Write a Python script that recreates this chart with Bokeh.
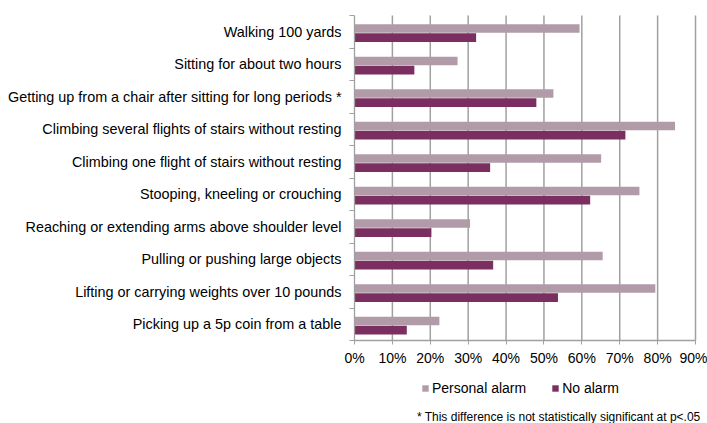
import numpy as np
from bokeh.plotting import figure
from bokeh.models import (ColumnDataSource, Range1d, FixedTicker, LinearAxis,
                          PrintfTickFormatter, Legend, LegendItem, Label)
from bokeh.transform import dodge
from bokeh.embed import file_html
from bokeh.resources import INLINE

categories = [
    "Walking 100 yards",
    "Sitting for about two hours",
    "Getting up from a chair after sitting for long periods *",
    "Climbing several flights of stairs without resting",
    "Climbing one flight of stairs without resting",
    "Stooping, kneeling or crouching",
    "Reaching or extending arms above shoulder level",
    "Pulling or pushing large objects",
    "Lifting or carrying weights over 10 pounds",
    "Picking up a 5p coin from a table",
]
personal_alarm = [59.4, 27.2, 52.5, 84.6, 65.1, 75.2, 30.5, 65.5, 79.4, 22.4]
no_alarm = [32.1, 15.8, 48.0, 71.5, 35.8, 62.2, 20.3, 36.6, 53.7, 13.8]
x_ticks = [0, 10, 20, 30, 40, 50, 60, 70, 80, 90]
series_names = ["Personal alarm", "No alarm"]
footnote = "* This difference is not statistically significant at p<.05"

FONT = "Liberation Sans"
C_PERS = "#B29BA9"
C_NO = "#7B2E60"
GRAY = "#A0A0A0"

n = len(categories)
ypos = (np.arange(n)[::-1] + 0.5).tolist()
src = ColumnDataSource(dict(y=ypos, pers=personal_alarm, no=no_alarm, cat=categories))
grid_src = ColumnDataSource(dict(x=x_ticks[1:], y0=[0] * (len(x_ticks) - 1),
                                 y1=[n] * (len(x_ticks) - 1)))

# The frame covers the whole canvas; the plot area sits inside it.
W, H = 707, 423
LEFT, RIGHT, TOP, BOTTOM = 354, 695, 15, 340   # plot-area edges in pixels
xmax = x_ticks[-1]
xu = (RIGHT - LEFT) / xmax
yu = (BOTTOM - TOP) / n
x_range = Range1d(-LEFT / xu, xmax + (W - RIGHT) / xu)
y_range = Range1d(-(H - BOTTOM) / yu, n + TOP / yu)

p = figure(width=W, height=H, output_backend="svg", toolbar_location=None,
           x_range=x_range, y_range=y_range,
           x_axis_location=None, y_axis_location=None,
           min_border=0)
p.outline_line_color = None
p.background_fill_color = "white"
p.border_fill_color = "white"
p.xgrid.visible = False
p.ygrid.visible = False

p.segment(x0="x", y0="y0", x1="x", y1="y1", source=grid_src,
          line_color=GRAY, line_width=1.5)

r1 = p.hbar(y=dodge("y", 0.10), right="pers", left=0, height=0.265, source=src,
            fill_color=C_PERS, line_color=None)
r2 = p.hbar(y=dodge("y", -0.18), right="no", left=0, height=0.265, source=src,
            fill_color=C_NO, line_color=None)

# x axis pinned at y = 0
xaxis = LinearAxis(ticker=FixedTicker(ticks=x_ticks),
                   formatter=PrintfTickFormatter(format="%d%%"),
                   bounds=(0, xmax))
xaxis.fixed_location = 0
xaxis.axis_line_color = GRAY
xaxis.axis_line_width = 1.3
xaxis.major_tick_line_color = GRAY
xaxis.major_tick_out = 4
xaxis.major_tick_in = 0
xaxis.minor_tick_line_color = None
xaxis.major_label_standoff = 5
xaxis.major_label_text_font = FONT
xaxis.major_label_text_font_size = "14px"
xaxis.major_label_text_color = "#000000"
p.add_layout(xaxis, "below")

# y axis pinned at x = 0: labels at centres, ticks at boundaries
yaxis = LinearAxis(ticker=FixedTicker(ticks=ypos, minor_ticks=list(range(n + 1))),
                   bounds=(0, n))
yaxis.fixed_location = 0
yaxis.major_label_overrides = {y: c for y, c in zip(ypos, categories)}
yaxis.axis_line_color = GRAY
yaxis.axis_line_width = 1.3
yaxis.major_tick_line_color = None
yaxis.major_tick_out = 0
yaxis.major_tick_in = 0
yaxis.minor_tick_line_color = GRAY
yaxis.minor_tick_out = 5
yaxis.minor_tick_in = 0
yaxis.major_label_standoff = 8
yaxis.major_label_text_font = FONT
yaxis.major_label_text_font_size = "14.4px"
yaxis.major_label_text_color = "#000000"
p.add_layout(yaxis, "left")

legend = Legend(items=[LegendItem(label=series_names[0], renderers=[r1]),
                       LegendItem(label=series_names[1], renderers=[r2])],
                orientation="horizontal", location=(421, 27))
legend.glyph_width = 8
legend.glyph_height = 8
legend.label_standoff = 3
legend.spacing = 25
legend.padding = 0
legend.margin = 0
legend.border_line_color = None
legend.background_fill_alpha = 0
legend.label_text_font = FONT
legend.label_text_font_size = "14px"
legend.label_text_color = "#000000"
legend.label_height = 14
p.add_layout(legend, "center")

note = Label(x=700, y=7, x_units="screen", y_units="screen", text=footnote,
             text_align="right", text_baseline="alphabetic", text_font=FONT,
             text_font_size="12px", text_color="#000000")
p.add_layout(note)

open("out.html", "w").write(file_html(p, INLINE))
